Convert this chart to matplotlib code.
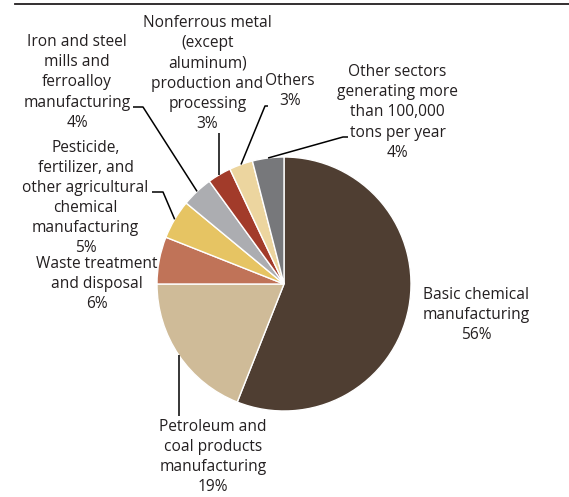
import numpy as np
import matplotlib
matplotlib.use("Agg")
import matplotlib.pyplot as plt

# Shares of the total by sector (percent), drawn clockwise from 12 o'clock
sectors = [
    "Basic chemical\nmanufacturing",
    "Petroleum and\ncoal products\nmanufacturing",
    "Waste treatment\nand disposal",
    "Pesticide,\nfertilizer, and\nother agricultural\nchemical\nmanufacturing",
    "Iron and steel\nmills and\nferroalloy\nmanufacturing",
    "Nonferrous metal\n(except\naluminum)\nproduction and\nprocessing",
    "Others",
    "Other sectors\ngenerating more\nthan 100,000\ntons per year",
]
shares = [56, 19, 6, 5, 4, 3, 3, 4]
colors = ["#4f3e32", "#cfbb98", "#c07358", "#e6c463",
          "#acadb1", "#a23b2a", "#ecd59f", "#77787b"]

W, H = 569, 497
fig = plt.figure(figsize=(W / 100, H / 100), dpi=100)
ax = fig.add_axes([0, 0, 1, 1])

cx, cy, R = 284, H - 284, 127
wedges, _ = ax.pie(shares, colors=colors, startangle=90, counterclock=False,
                   center=(cx, cy), radius=R,
                   wedgeprops=dict(edgecolor="white", linewidth=1.0))
ax.set_xlim(0, W)
ax.set_ylim(0, H)
ax.set_aspect("equal")
ax.axis("off")

# Rule across the top of the figure
ax.plot([15, W], [H - 4, H - 4], color="#231f20", lw=1.3, clip_on=False)

txt_kw = dict(ha="center", va="center", fontsize=11.2, color="#231f20",
              family=["Open Sans", "DejaVu Sans"], linespacing=1.335)

# label centre (x, y from top) and leader-line elbow points per slice
layout = [
    ((476, 315), None),
    ((213, 457), [(None, 416)]),
    ((97, 284), None),
    ((85.5, 198), [(163, 192), (152, 192)]),
    ((77, 82.5), [(143, 107), (133, 107)]),
    ((207.5, 73.5), [(None, 133)]),
    ((290, 91), [(265, 106), (268, 106)]),
    ((397.5, 112.5), [(343, 137), (348, 137)]),
]

for w, name, pct, ((tx, ty), elbow) in zip(wedges, sectors, shares, layout):
    ax.text(tx, H - ty, f"{name}\n{pct}%", **txt_kw)
    if elbow is None:
        continue
    mid = np.deg2rad((w.theta1 + w.theta2) / 2)
    ex, ey = cx + R * np.cos(mid), cy + R * np.sin(mid)
    xs, ys = [ex], [ey]
    for px, py in elbow:
        xs.append(ex if px is None else px)
        ys.append(H - py)
    ax.plot(xs, ys, color="black", lw=1.1, solid_capstyle="butt")

fig.savefig("out.png", dpi=100)
